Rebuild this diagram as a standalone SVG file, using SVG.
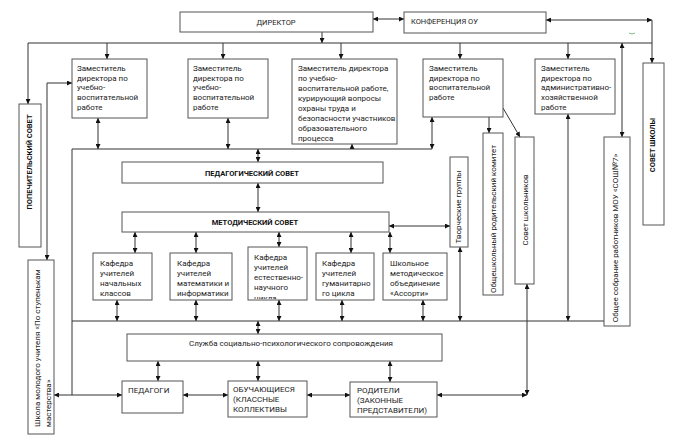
<svg xmlns="http://www.w3.org/2000/svg" width="680" height="444" viewBox="0 0 680 444">
<style>
.b{fill:#fff;stroke:#555;stroke-width:1}
.t{font-family:Roboto,"Liberation Sans",sans-serif;font-size:8px;fill:#222}
.h{font-family:Roboto,"Liberation Sans",sans-serif;font-size:7.5px;font-weight:bold;fill:#111}
.c{font-family:Roboto,"Liberation Sans",sans-serif;font-size:7.5px;fill:#222}
.l{fill:none;stroke:#333;stroke-width:1}
.d{marker-start:url(#a);marker-end:url(#a)}
.e{marker-end:url(#a)}
</style>
<defs>
<marker id="a" viewBox="0 0 6 6" refX="6" refY="3" markerWidth="5" markerHeight="5" markerUnits="userSpaceOnUse" orient="auto-start-reverse"><path d="M0,0L6,3L0,6z" fill="#111"/></marker>
<clipPath id="k3"><rect x="248" y="247" width="59" height="52"/></clipPath>
</defs>
<rect width="680" height="444" fill="#fff"/>

<g id="connectors">
<line class="l d" x1="373" y1="19" x2="404" y2="19"/>
<line class="l d" x1="546" y1="20" x2="652" y2="20"/>
<line class="l e" x1="652" y1="20" x2="652" y2="63"/>
<line class="l e" x1="322" y1="32" x2="322" y2="43"/>
<path class="l" d="M28,43H652"/>
<line class="l e" x1="28" y1="43" x2="28" y2="104"/>
<line class="l e" x1="107" y1="43" x2="107" y2="59"/>
<line class="l e" x1="223" y1="43" x2="223" y2="59"/>
<line class="l e" x1="341" y1="43" x2="341" y2="59"/>
<line class="l e" x1="460" y1="43" x2="460" y2="59"/>
<line class="l e" x1="568" y1="43" x2="568" y2="59"/>
<line class="l d" x1="622" y1="43" x2="622" y2="137"/>
<path class="l d" d="M72,83H47V260"/>
<line class="l d" x1="98" y1="118" x2="98" y2="149"/>
<line class="l d" x1="228" y1="118" x2="228" y2="149"/>
<line class="l" x1="352" y1="144" x2="352" y2="149" style="marker-start:url(#a)"/>
<line class="l d" x1="432" y1="117" x2="432" y2="149"/>
<path class="l" d="M432,149H72V395"/>
<path class="l" d="M72,321H604"/>
<line class="l e" x1="489" y1="117" x2="489" y2="133"/>
<line class="l e" x1="503" y1="108" x2="520" y2="137"/>
<line class="l d" x1="568" y1="114" x2="568" y2="321"/>
<line class="l d" x1="258" y1="149" x2="258" y2="162"/>
<line class="l d" x1="258" y1="183" x2="258" y2="212"/>
<line class="l d" x1="135" y1="232" x2="135" y2="253"/>
<line class="l d" x1="196" y1="232" x2="196" y2="253"/>
<line class="l d" x1="279" y1="232" x2="279" y2="247"/>
<line class="l d" x1="351" y1="232" x2="351" y2="253"/>
<line class="l d" x1="390" y1="232" x2="390" y2="253"/>
<line class="l d" x1="389" y1="226" x2="450" y2="226"/>
<line class="l d" x1="117" y1="300" x2="117" y2="321"/>
<line class="l d" x1="196" y1="300" x2="196" y2="321"/>
<line class="l d" x1="279" y1="300" x2="279" y2="321"/>
<line class="l d" x1="342" y1="300" x2="342" y2="321"/>
<line class="l d" x1="423" y1="300" x2="423" y2="321"/>
<line class="l d" x1="460" y1="247" x2="460" y2="321"/>
<line class="l d" x1="258" y1="321" x2="258" y2="334"/>
<line class="l d" x1="158" y1="361" x2="158" y2="381"/>
<line class="l d" x1="258" y1="361" x2="258" y2="381"/>
<line class="l d" x1="390" y1="361" x2="390" y2="382"/>
<line class="l d" x1="54" y1="395" x2="122" y2="395"/>
<line class="l d" x1="183" y1="395" x2="228" y2="395"/>
<line class="l d" x1="307" y1="395" x2="350" y2="395"/>
<line class="l d" x1="437" y1="395" x2="527" y2="395"/>
<line class="l d" x1="527" y1="284" x2="527" y2="395"/>
<path d="M629,33q3,2 6,0" fill="none" stroke="#6a6" stroke-width="0.8"/>
</g>

<g id="director"><rect class="b" x="180" y="12" width="193" height="20"/><text class="c" x="276" y="24.5" text-anchor="middle">ДИРЕКТОР</text></g>
<g id="conference"><rect class="b" x="404" y="12" width="142" height="21"/><text class="c" x="411" y="24">КОНФЕРЕНЦИЯ ОУ</text></g>

<g id="deputy1"><rect class="b" x="72" y="59" width="75" height="59"/>
<text class="t"><tspan x="77" y="71">Заместитель</tspan><tspan x="77" y="80.7">директора по</tspan><tspan x="77" y="90.4">учебно-</tspan><tspan x="77" y="100.1">воспитательной</tspan><tspan x="77" y="109.8">работе</tspan></text></g>
<g id="deputy2"><rect class="b" x="188" y="59" width="80" height="59"/>
<text class="t"><tspan x="193" y="71">Заместитель</tspan><tspan x="193" y="80.7">директора по</tspan><tspan x="193" y="90.4">учебно-</tspan><tspan x="193" y="100.1">воспитательной</tspan><tspan x="193" y="109.8">работе</tspan></text></g>
<g id="deputy3"><rect class="b" x="292" y="59" width="105" height="85"/>
<text class="t"><tspan x="298" y="71">Заместитель директора</tspan><tspan x="298" y="81">по учебно-</tspan><tspan x="298" y="91">воспитательной работе,</tspan><tspan x="298" y="101">курирующий вопросы</tspan><tspan x="298" y="111">охраны труда и</tspan><tspan x="298" y="121">безопасности участников</tspan><tspan x="298" y="131">образовательного</tspan><tspan x="298" y="141">процесса</tspan></text></g>
<g id="deputy4"><rect class="b" x="423" y="59" width="80" height="58"/>
<text class="t"><tspan x="429" y="71">Заместитель</tspan><tspan x="429" y="80.7">директора по</tspan><tspan x="429" y="90.4">воспитательной</tspan><tspan x="429" y="100.1">работе</tspan></text></g>
<g id="deputy5"><rect class="b" x="535" y="59" width="80" height="55"/>
<text class="t"><tspan x="541" y="71">Заместитель</tspan><tspan x="541" y="80.7">директора по</tspan><tspan x="541" y="90.4">административно-</tspan><tspan x="541" y="100.1">хозяйственной</tspan><tspan x="541" y="109.8">работе</tspan></text></g>

<g id="trustees"><rect class="b" x="19" y="104" width="22" height="143"/><text class="h" transform="translate(31.5,162) rotate(-90)" text-anchor="middle">ПОПЕЧИТЕЛЬСКИЙ СОВЕТ</text></g>
<g id="school-council"><rect class="b" x="643" y="63" width="21" height="162"/><text class="h" transform="translate(654.5,145) rotate(-90)" text-anchor="middle">СОВЕТ ШКОЛЫ</text></g>
<g id="young-teacher"><rect class="b" x="28" y="260" width="26" height="174"/>
<text class="t" transform="translate(40,427) rotate(-90)">Школа молодого учителя «По ступенькам</text>
<text class="t" transform="translate(51,427) rotate(-90)">мастерства»</text></g>

<g id="ped-council"><rect class="b" x="122" y="162" width="261" height="21"/><text class="h" x="252" y="175.5" text-anchor="middle">ПЕДАГОГИЧЕСКИЙ СОВЕТ</text></g>
<g id="met-council"><rect class="b" x="122" y="212" width="267" height="20"/><text class="h" x="255" y="225" text-anchor="middle">МЕТОДИЧЕСКИЙ СОВЕТ</text></g>

<g id="creative"><rect class="b" x="450" y="157" width="18" height="90"/><text class="t" transform="translate(460.5,207) rotate(-90)" text-anchor="middle">Творческие группы</text></g>
<g id="parents-committee"><rect class="b" x="483" y="133" width="20" height="162"/><text class="t" transform="translate(496,219) rotate(-90)" text-anchor="middle">Общешкольный родительский комитет</text></g>
<g id="student-council"><rect class="b" x="515" y="137" width="19" height="147"/><text class="t" transform="translate(528,210) rotate(-90)" text-anchor="middle">Совет школьников</text></g>
<g id="general-meeting"><rect class="b" x="604" y="137" width="26" height="189"/><text class="t" transform="translate(617.5,238) rotate(-90)" text-anchor="middle">Общее собрание работников МОУ «СОШ№7»</text></g>

<g id="kaf1"><rect class="b" x="93" y="253" width="59" height="47"/>
<text class="t"><tspan x="100" y="266">Кафедра</tspan><tspan x="100" y="276">учителей</tspan><tspan x="100" y="286">начальных</tspan><tspan x="100" y="296">классов</tspan></text></g>
<g id="kaf2"><rect class="b" x="170" y="253" width="62" height="47"/>
<text class="t"><tspan x="177" y="266">Кафедра</tspan><tspan x="177" y="276">учителей</tspan><tspan x="177" y="286">математики и</tspan><tspan x="177" y="296">информатики</tspan></text></g>
<g id="kaf3"><rect class="b" x="248" y="247" width="59" height="53"/>
<text class="t" clip-path="url(#k3)"><tspan x="254" y="260">Кафедра</tspan><tspan x="254" y="270">учителей</tspan><tspan x="254" y="280">естественно-</tspan><tspan x="254" y="290">научного</tspan><tspan x="254" y="301">цикла</tspan></text></g>
<g id="kaf4"><rect class="b" x="316" y="253" width="58" height="47"/>
<text class="t"><tspan x="322" y="266">Кафедра</tspan><tspan x="322" y="276">учителей</tspan><tspan x="322" y="286">гуманитарно</tspan><tspan x="322" y="296">го цикла</tspan></text></g>
<g id="kaf5"><rect class="b" x="383" y="253" width="64" height="47"/>
<text class="t"><tspan x="390" y="266">Школьное</tspan><tspan x="390" y="276">методическое</tspan><tspan x="390" y="286">объединение</tspan><tspan x="390" y="296">«Ассорти»</tspan></text></g>

<g id="social-service"><rect class="b" x="127" y="334" width="315" height="27"/><text class="t" x="189" y="346">Служба социально-психологического сопровождения</text></g>
<g id="teachers"><rect class="b" x="122" y="381" width="61" height="32"/><text class="t" x="128" y="393">ПЕДАГОГИ</text></g>
<g id="students"><rect class="b" x="228" y="381" width="79" height="36"/>
<text class="t"><tspan x="233" y="392">ОБУЧАЮЩИЕСЯ</tspan><tspan x="233" y="402">(КЛАССНЫЕ</tspan><tspan x="233" y="412">КОЛЛЕКТИВЫ</tspan></text></g>
<g id="parents"><rect class="b" x="350" y="382" width="87" height="35"/>
<text class="t"><tspan x="357" y="393">РОДИТЕЛИ</tspan><tspan x="357" y="403">(ЗАКОННЫЕ</tspan><tspan x="357" y="413">ПРЕДСТАВИТЕЛИ)</tspan></text></g>
</svg>
